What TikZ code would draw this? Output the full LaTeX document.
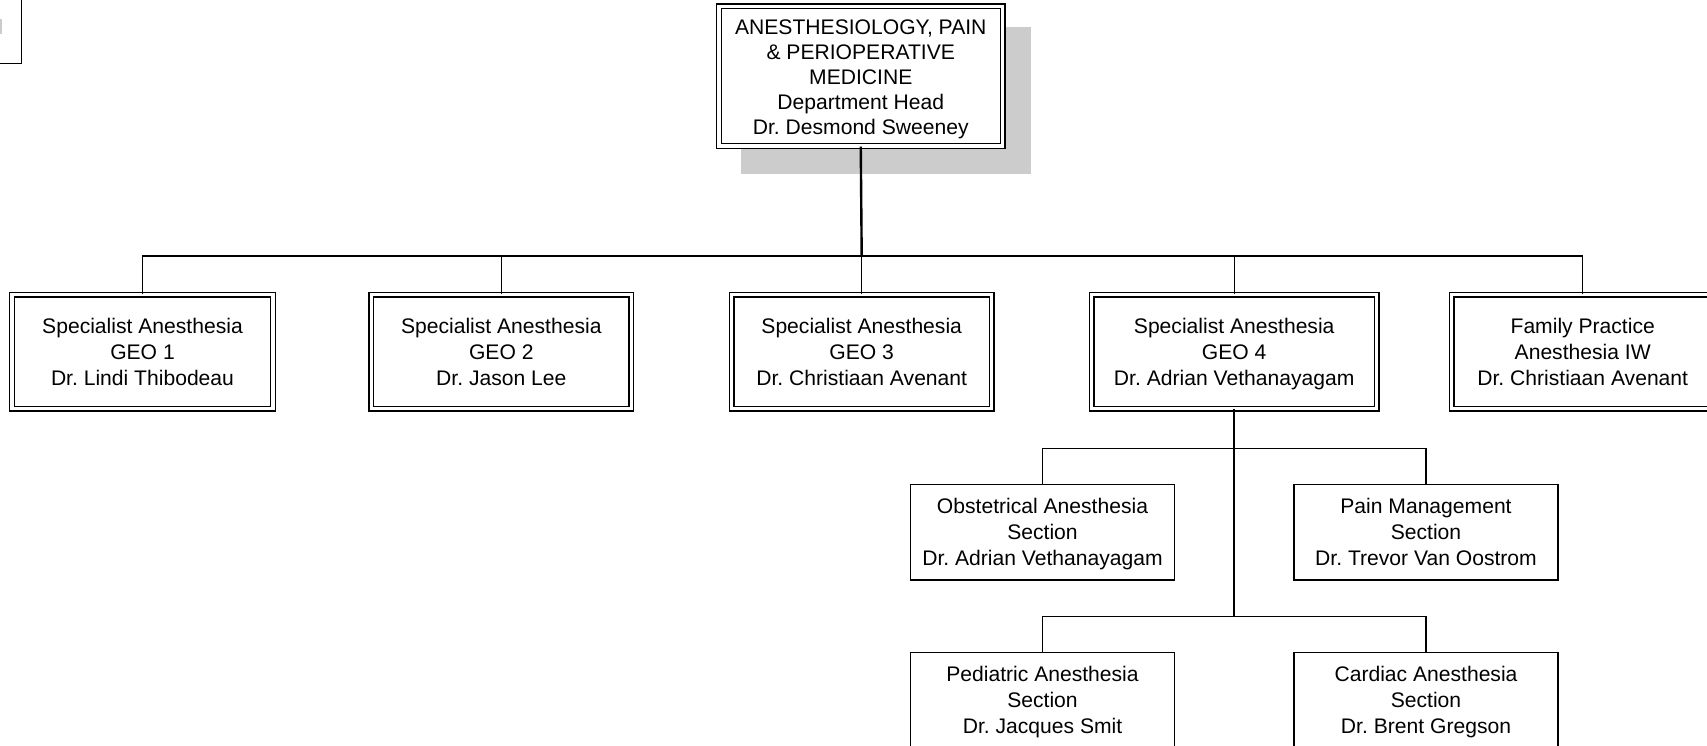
\documentclass[tikz,border=0pt]{standalone}
\usepackage{fontspec}
\setmainfont{Liberation Sans}
\frenchspacing
\definecolor{shadowgray}{HTML}{CCCCCC}
\newcommand{\orglines}[1]{\begin{tabular}{@{}c@{}}#1\end{tabular}}
\tikzset{
  txt/.style={font=\fontsize{21.1}{26}\selectfont\frenchspacing, inner sep=0pt,
    text height=40pt, text depth=24.8pt},
  dbox/.style={txt, draw, fill=white, double, double distance=3.4pt, line width=1.3pt},
  sbox/.style={txt, draw, fill=white, line width=1.4pt, minimum width=264pt, minimum height=95.5pt,
    text height=40pt, text depth=25.5pt},
  bus/.style={line width=1.4pt},
  trunk/.style={line width=2.4pt},
}
\begin{document}
\begin{tikzpicture}[x=1pt,y=-1pt]
\useasboundingbox (0,0) rectangle (1707,746);
\clip (0,0) rectangle (1707,746);
% partial box at top left
\draw[line width=1.5pt] (-10,-10) rectangle (21.5,63.5);
\fill[shadowgray] (0,19) rectangle (1.5,34);
% shadow of head box
\fill[shadowgray] (741,27) rectangle (1031,174);
% head
\node[dbox, minimum width=283.5pt, minimum height=139.5pt,
      font=\fontsize{21.1}{25.1}\selectfont\frenchspacing, text height=60pt, text depth=43.5pt] (head) at (860.75,76.25)
  {\orglines{ANESTHESIOLOGY, PAIN\\\& PERIOPERATIVE\\MEDICINE\\Department Head\\Dr. Desmond Sweeney}};
% GEO level
\node[dbox, minimum width=261pt, minimum height=114pt] (geo1) at (142.5,351.5)
  {\orglines{Specialist Anesthesia\\GEO 1\\Dr. Lindi Thibodeau}};
\node[dbox, minimum width=260pt, minimum height=114pt] (geo2) at (501.3,351.5)
  {\orglines{Specialist Anesthesia\\GEO 2\\Dr. Jason Lee}};
\node[dbox, minimum width=260pt, minimum height=114pt] (geo3) at (861.7,351.5)
  {\orglines{Specialist Anesthesia\\GEO 3\\Dr. Christiaan Avenant}};
\node[dbox, minimum width=285pt, minimum height=114pt] (geo4) at (1234.2,351.5)
  {\orglines{Specialist Anesthesia\\GEO 4\\Dr. Adrian Vethanayagam}};
\node[dbox, minimum width=262pt, minimum height=114pt] (fam) at (1582.7,351.5)
  {\orglines{Family Practice\\Anesthesia IW\\Dr. Christiaan Avenant}};
% sections
\node[sbox] (obst) at (1042.5,532.2) {\orglines{Obstetrical Anesthesia\\Section\\Dr. Adrian Vethanayagam}};
\node[sbox] (pain) at (1426,532.2) {\orglines{Pain Management\\Section\\Dr. Trevor Van Oostrom}};
\node[sbox] (ped) at (1042.5,700.3) {\orglines{Pediatric Anesthesia\\Section\\Dr. Jacques Smit}};
\node[sbox] (card) at (1426,700.3) {\orglines{Cardiac Anesthesia\\Section\\Dr. Brent Gregson}};
% connectors
\coordinate (b0) at (861.7,256);
\coordinate (b1) at (1234.2,448.7);
\coordinate (b2) at (1234.2,616.3);
\draw[trunk] (head.south) -- (b0);
\foreach \n in {geo1,geo2,geo3,geo4,fam} \draw[bus] (b0) -| (\n.north);
\draw[trunk] (geo4.south) -- (b2);
\draw[bus] (b1) -| (obst.north);
\draw[bus] (b1) -| (pain.north);
\draw[bus] (b2) -| (ped.north);
\draw[bus] (b2) -| (card.north);
\end{tikzpicture}
\end{document}
